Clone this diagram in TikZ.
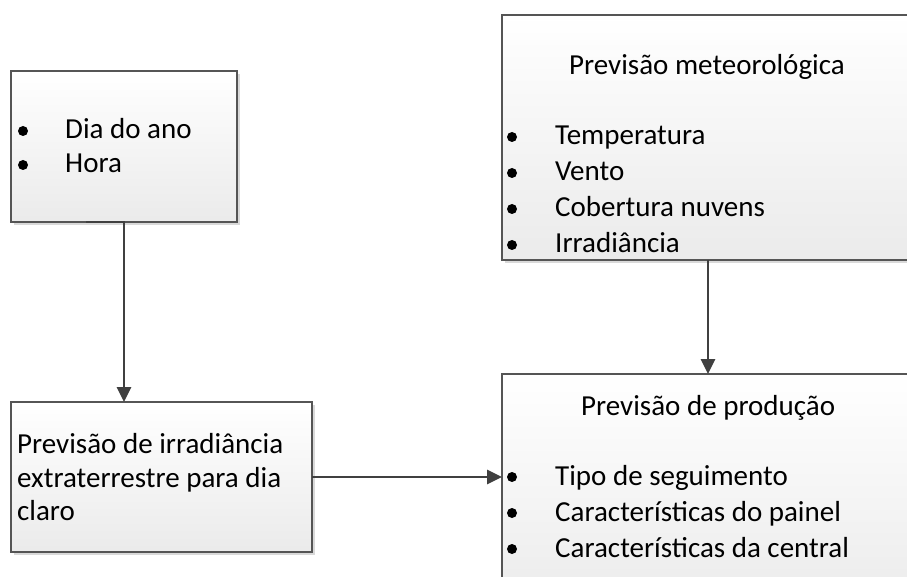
\documentclass[tikz,border=0pt]{standalone}
\usepackage{fontspec}
\setmainfont{Carlito}
\usetikzlibrary{arrows.meta,shadows,calc}
\definecolor{boxline}{HTML}{555555}
\definecolor{conncol}{HTML}{404040}
\tikzset{
  box/.style={draw=boxline, line width=1.2pt, rectangle, anchor=north west,
    inner sep=0pt, outer sep=0pt, top color=white, bottom color=black!8,
    drop shadow={shadow xshift=3pt, shadow yshift=-3pt, fill=black!15, opacity=1}},
  txt/.style={anchor=base west, inner sep=0pt, font=\fontsize{29}{34}\selectfont},
  bul/.style={fill=black, circle, inner sep=0pt, minimum size=10pt},
  conn/.style={draw=conncol, line width=2.8pt, -{Triangle[length=15pt,width=14pt]}}
}
\begin{document}
\begin{tikzpicture}[x=1pt,y=-1pt]
\useasboundingbox (0,0) rectangle (907,577);
\clip (0,0) rectangle (907,577);
% boxes
\node[box, minimum width=226pt, minimum height=151pt] (b1) at (11,71) {};
\node[box, minimum width=420pt, minimum height=245pt] (b2) at (502,15) {};
\node[box, minimum width=301pt, minimum height=150pt] (b3) at (11,402) {};
\node[box, minimum width=420pt, minimum height=240pt] (b4) at (502,374) {};
% box 1 text
\node[bul] (p1a) at (23,131) {};
\node[txt] (t1a) at (65,139) {Dia do ano};
\node[bul] (p1b) at (23,165) {};
\node[txt] (t1b) at (65,173) {Hora};
% box 2 text
\node[txt] (h2) at (569,75) {Previsão meteorológica};
\node[bul] (p2a) at (512,137) {};
\node[txt] (t2a) at (555,145) {Temperatura};
\node[bul] (p2b) at (512,173) {};
\node[txt] (t2b) at (555,181) {Vento};
\node[bul] (p2c) at (512,209) {};
\node[txt] (t2c) at (555,217) {Cobertura nuvens};
\node[bul] (p2d) at (512,245) {};
\node[txt] (t2d) at (555,253) {Irradiância};
% box 3 text
\node[txt] (t3a) at (17,453) {Previsão de irradiância};
\node[txt] (t3b) at (17,487) {extraterrestre para dia};
\node[txt] (t3c) at (17,520) {claro};
% box 4 text
\node[txt] (h4) at (581,415) {Previsão de produção};
\node[bul] (p4a) at (512,477) {};
\node[txt] (t4a) at (555,485) {Tipo de seguimento};
\node[bul] (p4b) at (512,513) {};
\node[txt] (t4b) at (555,521) {Características do painel};
\node[bul] (p4c) at (512,549) {};
\node[txt] (t4c) at (555,557) {Características da central};
% connectors
\coordinate (a1s) at ($(b1.south west)+(75,0)$);
\coordinate (a1t) at ($(b3.north west)+(113,0)$);
\draw[conn] (a1s) -| (a1t);
\coordinate (a2s) at ($(b2.south west)+(206,0)$);
\coordinate (a2t) at ($(b4.north west)+(206,0)$);
\draw[conn] (a2s) -- (a2t);
\draw[conn] (b3.east) -- (b4.west |- b3.east);
\end{tikzpicture}
\end{document}
